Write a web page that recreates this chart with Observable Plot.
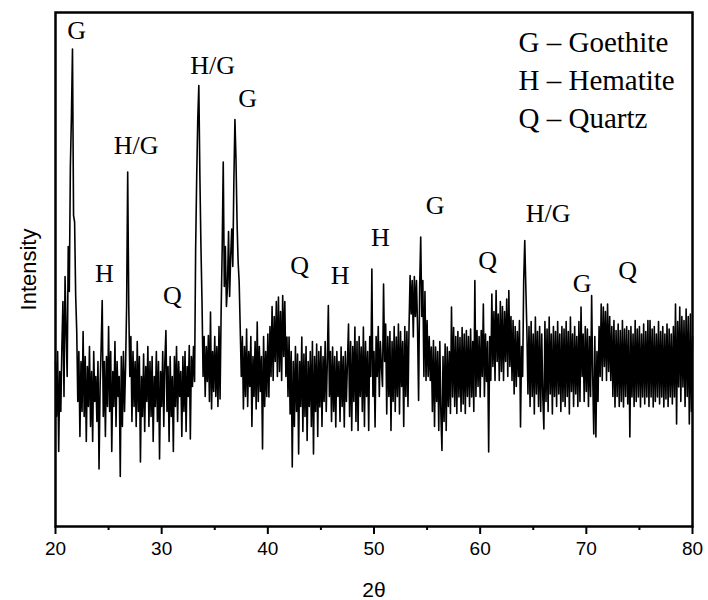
<!DOCTYPE html>
<html>
<head>
<meta charset="utf-8">
<script src="https://cdn.jsdelivr.net/npm/d3@7"></script>
<script src="https://cdn.jsdelivr.net/npm/@observablehq/plot@0.6"></script>
<style>
  html, body { margin: 0; padding: 0; background: #fff; }
  #chart svg { display: block; }
</style>
</head>
<body>
<div id="chart"></div>
<script>
// Sampling grid of the pattern (2θ, degrees)
const thetaStart = 20;
const thetaStep = 0.1;

// Intensity (a.u.), one row per degree (x.0 … x.9)
const intensity = [
  330, 220, 350, 150, 310, 230, 360, 450, 260, 500, // 20
  390, 300, 560, 470, 720, 820, 955, 622, 609, 462, // 21
  390, 250, 350, 180, 330, 230, 390, 220, 340, 170, // 22
  320, 240, 360, 200, 310, 170, 350, 250, 300, 210, // 23
  330, 115, 280, 360, 452, 220, 330, 180, 340, 240, // 24
  400, 230, 350, 150, 310, 240, 370, 200, 330, 260, // 25
  300, 100, 340, 200, 350, 230, 320, 442, 709, 442, // 26
  300, 380, 210, 350, 240, 330, 200, 370, 230, 340, // 27
  129, 300, 220, 345, 190, 320, 250, 360, 200, 330, // 28
  220, 340, 170, 300, 240, 350, 210, 330, 135, 310, // 29
  240, 350, 200, 330, 392, 230, 320, 170, 340, 220, // 30
  300, 150, 340, 240, 360, 210, 330, 260, 310, 180, // 31
  340, 230, 350, 190, 320, 260, 362, 175, 340, 280, // 32
  360, 290, 555, 700, 815, 882, 700, 560, 450, 300, // 33
  380, 260, 360, 290, 382, 250, 429, 235, 350, 270, // 34
  380, 260, 360, 240, 400, 255, 428, 555, 729, 480, // 35
  560, 440, 480, 590, 460, 540, 595, 520, 690, 814, // 36
  735, 609, 530, 489, 395, 300, 380, 235, 360, 260, // 37
  395, 240, 350, 280, 380, 200, 340, 260, 370, 235, // 38
  409, 250, 360, 270, 340, 155, 380, 240, 350, 260, // 39
  385, 259, 400, 300, 440, 292, 420, 330, 450, 300, // 40
  459, 310, 430, 292, 462, 340, 450, 300, 379, 260, // 41
  379, 225, 350, 119, 330, 200, 360, 230, 345, 145, // 42
  330, 240, 379, 190, 345, 220, 360, 172, 330, 240, // 43
  350, 200, 370, 145, 340, 230, 365, 180, 350, 239, // 44
  360, 200, 340, 250, 370, 230, 330, 442, 260, 350, // 45
  210, 359, 230, 340, 199, 350, 260, 330, 210, 359, // 46
  240, 340, 199, 350, 250, 330, 405, 220, 370, 192, // 47
  360, 250, 399, 210, 370, 192, 380, 260, 359, 230, // 48
  399, 200, 370, 260, 350, 192, 380, 300, 515, 260, // 49
  350, 199, 380, 300, 400, 260, 370, 320, 280, 485, // 50
  330, 405, 225, 380, 260, 390, 192, 370, 250, 400, // 51
  230, 379, 260, 405, 225, 390, 280, 370, 200, 400, // 52
  260, 390, 240, 400, 502, 425, 492, 379, 500, 420, // 53
  492, 400, 252, 480, 579, 420, 492, 300, 470, 292, // 54
  412, 300, 380, 292, 359, 230, 372, 200, 359, 250, // 55
  350, 192, 370, 225, 152, 340, 210, 365, 192, 359, // 56
  240, 350, 226, 439, 259, 398, 240, 380, 226, 390, // 57
  259, 378, 230, 398, 245, 385, 226, 392, 260, 380, // 58
  240, 395, 259, 370, 230, 492, 260, 392, 280, 380, // 59
  259, 392, 300, 445, 260, 385, 290, 370, 149, 380, // 60
  292, 465, 320, 430, 292, 472, 330, 425, 292, 450, // 61
  310, 440, 292, 430, 330, 455, 300, 472, 320, 420, // 62
  292, 412, 265, 400, 280, 390, 300, 412, 199, 360, // 63
  300, 492, 572, 479, 392, 265, 400, 240, 410, 260, // 64
  385, 225, 419, 265, 390, 240, 400, 230, 385, 260, // 65
  195, 410, 250, 395, 230, 419, 265, 385, 225, 400, // 66
  260, 390, 240, 410, 265, 385, 230, 400, 250, 395, // 67
  240, 410, 260, 390, 225, 419, 270, 385, 240, 400, // 68
  265, 380, 240, 410, 250, 439, 300, 385, 250, 400, // 69
  270, 395, 240, 380, 260, 462, 300, 185, 380, 179, // 70
  350, 250, 400, 300, 445, 292, 439, 320, 430, 292, // 71
  445, 310, 420, 292, 400, 260, 412, 239, 392, 260, // 72
  405, 240, 392, 250, 412, 239, 395, 260, 400, 245, // 73
  392, 179, 400, 259, 385, 240, 412, 250, 395, 259, // 74
  400, 239, 385, 259, 405, 245, 390, 259, 412, 240, // 75
  412, 259, 395, 239, 400, 250, 385, 259, 410, 245, // 76
  390, 259, 400, 239, 385, 255, 405, 240, 395, 259, // 77
  385, 245, 400, 259, 445, 205, 410, 279, 439, 250, // 78
  420, 279, 412, 240, 435, 260, 420, 205, 425, 230, // 79
  380                                               // 80
];

// Phase labels over the peaks
const peakLabels = ["G", "H", "H/G", "Q", "H/G", "G", "Q", "H", "H", "G", "Q", "H/G", "G", "Q"];
const peakLabelTheta = [22.0, 24.6, 27.6, 31.0, 34.8, 38.1, 43.0, 46.8, 50.6, 55.75, 60.7, 66.4, 69.6, 73.9];
const peakLabelIntensity = [992, 506, 762, 462, 922, 856, 522, 502, 578, 642, 532, 626, 486, 512];

// Legend lines
const legendLines = ["G – Goethite", "H – Hematite", "Q – Quartz"];

// Axis ticks
const majorTicks = [20, 30, 40, 50, 60, 70, 80];
const minorTicks = [25, 35, 45, 55, 65, 75];

const pattern = intensity.map((v, i) => ({theta: thetaStart + i * thetaStep, intensity: v}));
const labels = peakLabels.map((t, i) => ({text: t, theta: peakLabelTheta[i], intensity: peakLabelIntensity[i]}));

const serif = "'Liberation Serif', 'Times New Roman', serif";
const sans = "'Liberation Sans', Arial, sans-serif";

const chart = Plot.plot({
  width: 708,
  height: 600,
  marginLeft: 55,
  marginRight: 16,
  marginTop: 12,
  marginBottom: 74,
  style: {fontFamily: sans, fontSize: "19px", background: "white", color: "black"},
  x: {domain: [20, 80]},
  y: {domain: [0, 1028], axis: null},
  marks: [
    Plot.line(pattern, {x: "theta", y: "intensity", stroke: "black", strokeWidth: 1.6}),
    Plot.text(labels, {x: "theta", y: "intensity", text: "text", fontFamily: serif, fontSize: 26, fill: "black", textAnchor: "middle", lineAnchor: "middle"}),
    ...legendLines.map((t, i) => Plot.text([t], {frameAnchor: "top-left", text: d => d, dx: 463, dy: 30 + i * 38, textAnchor: "start", lineAnchor: "middle", fontFamily: serif, fontSize: 29, fill: "black"})),
    Plot.axisX({ticks: majorTicks, tickSize: 8, tickPadding: 7, tickFormat: d => String(d), strokeWidth: 2, fontSize: 19, fontFamily: sans, label: null}),
    Plot.axisX({ticks: minorTicks, tickSize: 4, tickFormat: () => "", strokeWidth: 2, label: null}),
    Plot.frame({stroke: "black", strokeWidth: 2.5}),
    Plot.text(["2θ"], {frameAnchor: "bottom", text: d => d, dy: 64, lineAnchor: "middle", fontFamily: sans, fontSize: 21, fill: "black"}),
    Plot.text(["Intensity"], {frameAnchor: "left", text: d => d, dx: -27, rotate: -90, lineAnchor: "middle", textAnchor: "middle", fontFamily: sans, fontSize: 22, fill: "black"})
  ]
});
document.getElementById("chart").appendChild(chart);
</script>
</body>
</html>
